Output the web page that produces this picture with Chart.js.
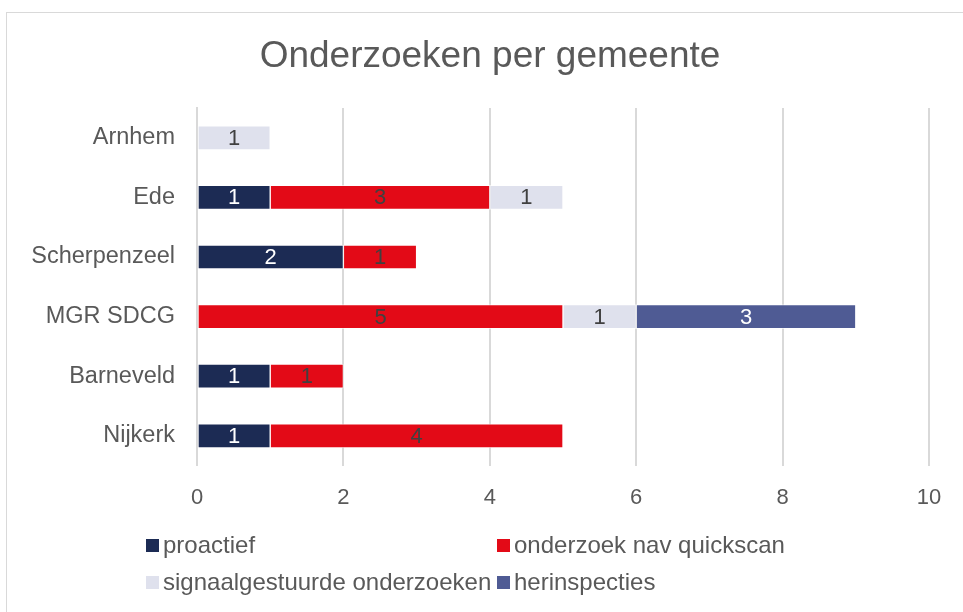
<!DOCTYPE html>
<html>
<head>
<meta charset="utf-8">
<script src="https://cdn.jsdelivr.net/npm/chart.js@4.4.1/dist/chart.umd.min.js"></script>
<style>
    body { margin: 0; background: #fff; }
    #wrap { position: relative; width: 963px; height: 612px; overflow: hidden; font-family: "Liberation Sans", Arial, sans-serif; }
    #frame { position: absolute; left: 6px; top: 12px; width: 980px; height: 640px; border: 1px solid #d9d9d9; }
    #chartBox { position: absolute; left: 0; top: 0; width: 963px; height: 612px; }
    #title { position: absolute; left: 0; width: 980px; top: 33px; text-align: center; color: #595959; font-size: 37px; line-height: 44px; }
    .leg { position: absolute; color: #595959; font-size: 24px; line-height: 28px; white-space: nowrap; }
    .leg i { display: inline-block; width: 13px; height: 13px; margin-right: 4px; vertical-align: 1px; }
</style>
</head>
<body>
<div id="wrap">
    <div id="frame"></div>
    <div id="chartBox"><canvas id="chart"></canvas></div>
    <div id="title">Onderzoeken per gemeente</div>
    <div id="legend"></div>
</div>
<script>
// gemeenten
const categories = ['Arnhem', 'Ede', 'Scherpenzeel', 'MGR SDCG', 'Barneveld', 'Nijkerk'];

// series (null = geen balk)
const proactief = [null, 1, 2, null, 1, 1];
const quickscan = [null, 3, 1, 5, 1, 4];
const signaal = [1, 1, null, 1, null, null];
const herinspecties = [null, null, null, 3, null, null];

const seriesNames = ['proactief', 'onderzoek nav quickscan', 'signaalgestuurde onderzoeken', 'herinspecties'];
const seriesColors = ['#1c2b54', '#e30a17', '#dfe1ed', '#4f5b94'];
const labelColors = ['#ffffff', '#404040', '#404040', '#ffffff'];

const xTicks = [0, 2, 4, 6, 8, 10];

// data labels in de balken
const barLabels = {
    id: 'barLabels',
    afterDatasetsDraw(chart) {
        let ctx = chart.ctx;
        ctx.save();
        ctx.font = '22px "Liberation Sans", Arial, sans-serif';
        ctx.textAlign = 'center';
        ctx.textBaseline = 'middle';
        chart.data.datasets.forEach(function(ds, i) {
            chart.getDatasetMeta(i).data.forEach(function(bar, j) {
                let v = ds.data[j];
                if (v == null) return;
                ctx.fillStyle = labelColors[i];
                ctx.fillText(String(v), (bar.x + bar.base) / 2, bar.y + 1);
            });
        });
        ctx.restore();
    }
};

let allData = [proactief, quickscan, signaal, herinspecties];

var ctx = document.getElementById('chart');

var chart = new Chart(ctx, {
    type: 'bar',
    data: {
        labels: categories,
        datasets: allData.map(function(d, i) {
            return {
                label: seriesNames[i],
                data: d,
                backgroundColor: seriesColors[i],
                borderColor: 'rgba(255,255,255,0.6)',
                borderWidth: 1,
                borderSkipped: false,
                barThickness: 24
            };
        })
    },
    options: {
        indexAxis: 'y',
        responsive: true,
        maintainAspectRatio: false,
        animation: false,
        layout: {
            padding: { left: 0, right: 34, top: 108, bottom: 82 }
        },
        plugins: {
            legend: { display: false },
            tooltip: { enabled: false }
        },
        scales: {
            x: {
                stacked: true,
                min: 0,
                max: 10,
                afterBuildTicks: function(scale) {
                    scale.ticks = xTicks.map(function(v) { return { value: v }; });
                },
                grid: { color: '#d9d9d9', lineWidth: 2, drawTicks: false },
                border: { display: false },
                ticks: {
                    color: '#595959',
                    padding: 19,
                    font: { family: '"Liberation Sans", Arial, sans-serif', size: 22 }
                }
            },
            y: {
                stacked: true,
                afterFit: function(scale) { scale.width = 197; },
                grid: { display: false, drawTicks: false },
                border: { display: true, color: '#d9d9d9', width: 2 },
                ticks: {
                    color: '#595959',
                    padding: 22,
                    font: { family: '"Liberation Sans", Arial, sans-serif', size: 23.5 }
                }
            }
        }
    },
    plugins: [barLabels]
});

// legenda in twee kolommen
let legendPos = [[146, 545], [497, 545], [146, 582], [497, 582]];
let legendHtml = '';
seriesNames.forEach(function(name, i) {
    legendHtml += `<div class="leg" style="left:${legendPos[i][0]}px;top:${legendPos[i][1] - 14}px"><i style="background:${seriesColors[i]}"></i>${name}</div>`;
});
document.getElementById('legend').innerHTML = legendHtml;
</script>
</body>
</html>
